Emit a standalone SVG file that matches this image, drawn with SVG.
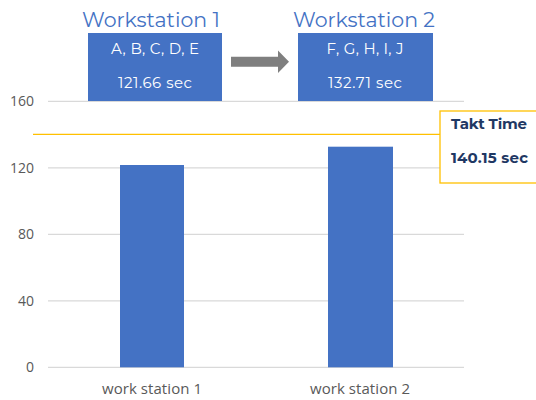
<svg xmlns="http://www.w3.org/2000/svg" width="536" height="400" viewBox="0 0 536 400">
  <style>
    .grid { stroke: #D9D9D9; stroke-width: 1.2; }
    .axis { font-family: "Open Sans", "Liberation Sans", sans-serif; font-size: 14px; fill: #595959; }
    .cat { font-family: "Open Sans", "Liberation Sans", sans-serif; font-size: 15px; fill: #595959; text-anchor: middle; }
    .bar { fill: #4472C4; }
    .title { font-family: "Montserrat", "Open Sans", "Liberation Sans", sans-serif; font-size: 20.5px; fill: #4472C4; text-anchor: middle; }
    .box { fill: #4472C4; }
    .boxtxt { font-family: "Montserrat", "Open Sans", "Liberation Sans", sans-serif; font-size: 15px; fill: #FFFFFF; text-anchor: middle; }
    .takt { stroke: #FFC000; stroke-width: 1.3; fill: #FFFFFF; }
    .takttxt { font-family: "Montserrat", "Open Sans", "Liberation Sans", sans-serif; font-size: 15px; font-weight: bold; fill: #1F3864; }
  </style>
  <rect width="536" height="400" fill="#FFFFFF"/>

  <!-- chart gridlines -->
  <g id="grid">
    <line class="grid" x1="48" y1="101.3" x2="464" y2="101.3"/>
    <line class="grid" x1="48" y1="167.8" x2="464" y2="167.8"/>
    <line class="grid" x1="48" y1="234.3" x2="464" y2="234.3"/>
    <line class="grid" x1="48" y1="300.8" x2="464" y2="300.8"/>
    <line class="grid" x1="48" y1="367.3" x2="464" y2="367.3"/>
  </g>

  <!-- value axis labels -->
  <g id="y-axis">
    <text class="axis" x="34" y="106" text-anchor="end">160</text>
    <text class="axis" x="34" y="172.5" text-anchor="end">120</text>
    <text class="axis" x="34" y="239" text-anchor="end">80</text>
    <text class="axis" x="34" y="305.5" text-anchor="end">40</text>
    <text class="axis" x="34" y="372" text-anchor="end">0</text>
  </g>

  <!-- bars -->
  <g id="bar-1"><rect class="bar" x="120" y="165" width="64" height="202.3"/></g>
  <g id="bar-2"><rect class="bar" x="328" y="146.7" width="65" height="220.6"/></g>

  <!-- category labels -->
  <g id="x-axis">
    <text class="cat" x="152" y="394" textLength="100">work station 1</text>
    <text class="cat" x="360" y="394" textLength="100">work station 2</text>
  </g>

  <!-- workstation boxes -->
  <g id="workstation-1">
    <text class="title" x="151" y="27" textLength="138">Workstation 1</text>
    <rect class="box" x="88" y="33" width="134" height="68"/>
    <text class="boxtxt" x="155" y="54" textLength="88">A, B, C, D, E</text>
    <text class="boxtxt" x="155" y="88" textLength="74">121.66 sec</text>
  </g>
  <g id="workstation-2">
    <text class="title" x="364" y="27" textLength="142">Workstation 2</text>
    <rect class="box" x="298" y="33" width="135" height="68"/>
    <text class="boxtxt" x="365" y="54" textLength="77">F, G, H, I, J</text>
    <text class="boxtxt" x="365" y="88" textLength="74">132.71 sec</text>
  </g>

  <!-- takt time callout -->
  <g id="takt-time">
    <rect class="takt" x="440" y="111" width="100" height="72"/>
    <text class="takttxt" x="451" y="129" textLength="76">Takt Time</text>
    <text class="takttxt" x="451" y="162.5" textLength="77">140.15 sec</text>
  </g>

  <!-- connectors -->
  <g id="connectors">
    <line x1="33" y1="134.3" x2="440" y2="134.3" stroke="#FFC000" stroke-width="1.3"/>
    <polygon points="231,56.7 278,56.7 278,50.5 289,61.7 278,73 278,66.7 231,66.7" fill="#7F7F7F"/>
  </g>
</svg>
